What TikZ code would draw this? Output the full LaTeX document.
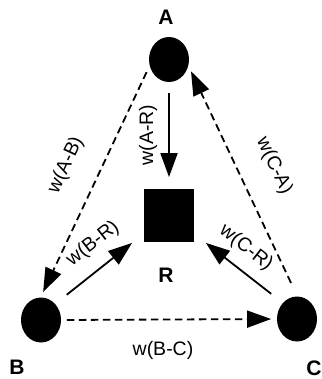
\documentclass[tikz,border=0pt]{standalone}
\usepackage{fontspec}
\setmainfont{Liberation Sans}
\usetikzlibrary{arrows.meta,shapes.geometric}

\tikzset{every picture/.style={line width=1.8pt}}

\begin{document}
\begin{tikzpicture}[x=1pt,y=1pt,yscale=-1,
  vertex/.style={ellipse,fill=black,minimum width=40pt,minimum height=45pt,inner sep=0pt},
  hub/.style={rectangle,fill=black,minimum width=50pt,minimum height=53pt,inner sep=0pt},
  tag/.style={font=\bfseries\fontsize{21}{21}\selectfont,inner sep=0pt},
  wlabel/.style={font=\fontsize{19.5}{19.5}\selectfont,inner sep=0pt},
  link/.style={-{Triangle[length=24pt,width=17pt]}},
  flow/.style={link,dash pattern={on 7.5pt off 4.5pt}}]
\useasboundingbox (0,0) rectangle (321,379);

% peers and the relay
\node[vertex] (A) at (169,59.5) {};
\node[vertex] (B) at (41,320) {};
\node[vertex] (C) at (297,319) {};
\node[hub] (R) at (169,215.5) {};

% names
\node[tag] (tagA) at (166,17) {A};
\node[tag] (tagB) at (17,367.5) {B};
\node[tag] (tagC) at (314,368) {C};
\node[tag] (tagR) at (166,275) {R};

% weights towards R
\draw[link,shorten <=10pt,shorten >=11pt] (A) -- (R);
\draw[link,shorten <=14pt] (B.north east) -- ([xshift=-11pt]R.south west);
\draw[link,shorten <=14pt] (C.north west) -- ([xshift=11pt]R.south east);

% weights between peers
\draw[flow,shorten <=6pt,shorten >=5pt] (A.200) -- (B.north);
\draw[flow,shorten <=5pt,shorten >=5pt] (B.east) -- (C.west);
\draw[flow,shorten <=14pt,shorten >=5pt] (C.north) -- (A.-20);

% edge labels
\node[wlabel,rotate=90] (war) at (148,135) {w(A-R)};
\node[wlabel,rotate=65] (wab) at (66,165) {w(A-B)};
\node[wlabel,rotate=-65] (wca) at (274,166) {w(C-A)};
\node[wlabel,rotate=38] (wbr) at (93,244) {w(B-R)};
\node[wlabel,rotate=-38] (wcr) at (246,248) {w(C-R)};
\node[wlabel] (wbc) at (163,350) {w(B-C)};
\end{tikzpicture}
\end{document}
